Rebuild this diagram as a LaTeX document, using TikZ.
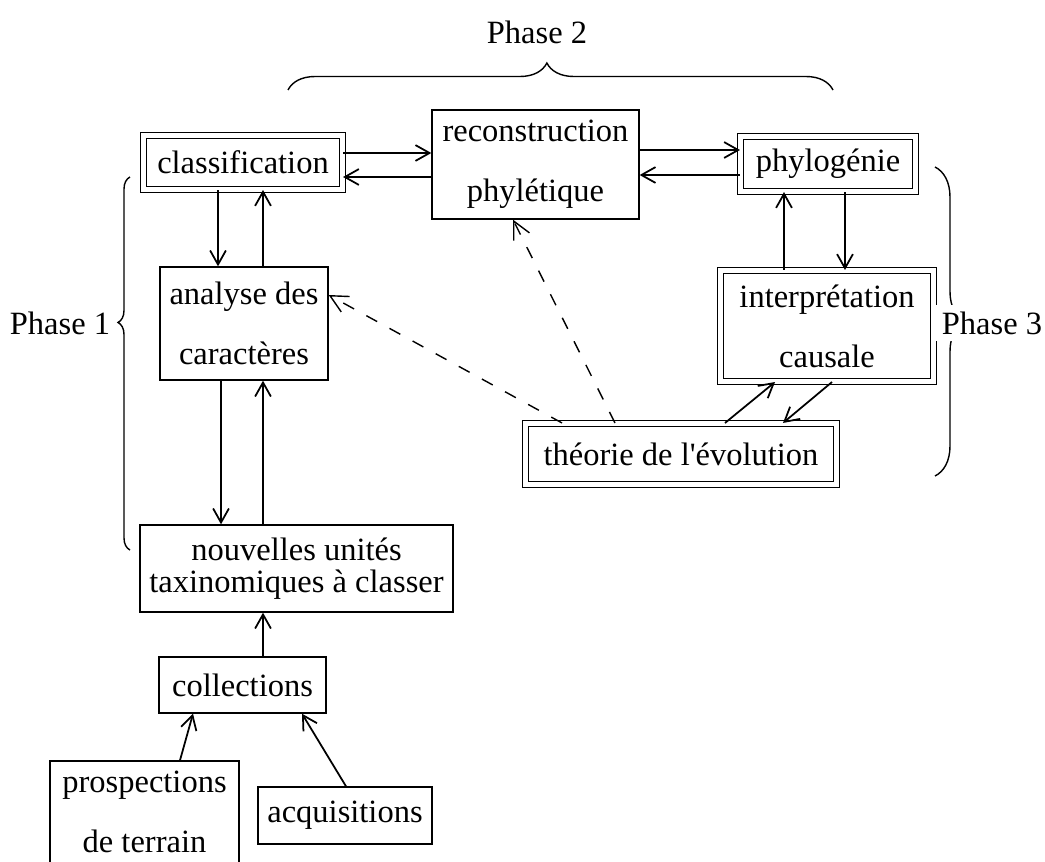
\documentclass[tikz,border=0pt]{standalone}
\usepackage{fontspec}
\setmainfont{Liberation Serif}
\newfontfamily\plainserif{Liberation Serif}
\usetikzlibrary{arrows.meta,decorations.pathreplacing}

\begin{document}
\begin{tikzpicture}[x=0.02cm, y=-0.02cm, >={Straight Barb[length=8pt,width=9pt]},
  main node/.style={draw, line width=0.8pt, inner sep=0pt, align=center},
  double node/.style={main node, double, double distance=3pt, line width=0.6pt},
  brace line/.style={line width=0.8pt, decorate}]
        \tikzstyle{every node}=[font=\fontsize{18.5pt}{18pt}\selectfont]
        \useasboundingbox (0,0) rectangle (1045,862);

          \node[double node, minimum width=3.98cm, minimum height=1.08cm] (1) at (243,162.5) {classification};
          \node[main node, minimum width=4.14cm, minimum height=2.18cm] (2) at (535.5,164.5) {reconstruction\\[16pt]phylétique};
          \node[double node, minimum width=3.5cm, minimum height=1.1cm] (3) at (828,164) {phylogénie};
          \node[double node, minimum width=4.26cm, minimum height=2.22cm] (4) at (827,326) {interprétation\\[16pt]causale};
          \node[double node, minimum width=6.22cm, minimum height=1.22cm] (5) at (681,454) {théorie de l{\plainserif '}évolution};
          \node[main node, minimum width=3.36cm, minimum height=2.26cm] (6) at (244,323.5) {analyse des\\[16pt]caractères};
          \node[main node, minimum width=6.26cm, minimum height=1.74cm] (7) at (296.5,568.5) {nouvelles unités\\taxinomiques à classer};
          \node[main node, minimum width=3.34cm, minimum height=1.12cm] (8) at (242.5,685) {collections};
          \node[main node, minimum width=3.78cm, minimum height=2.04cm] (9) at (144.5,812) {prospections\\[16pt]de terrain};
          \node[main node, minimum width=3.48cm, minimum height=1.14cm] (10) at (345,815.5) {acquisitions};

          % braces
          \draw[brace line, decoration={brace, amplitude=0.54cm, aspect=0.475}] (288,90) -- (833,90);
          \draw[brace line, decoration={brace, amplitude=0.24cm, aspect=0.61}] (130,550) -- (130,177);
          \draw[brace line, decoration={brace, amplitude=0.6cm, aspect=0.5}] (935,167) -- (935,476);

          \node (p2) at (537,32) {Phase 2};
          \node (p1) at (60,323) {Phase 1};
          \node[fill=white, inner sep=4pt] (p3) at (992,323) {Phase 3};

          \path[->, line width=1pt]
            ([yshift=0.19cm]1.east) edge ([yshift=0.23cm]2.west)
            ([yshift=-0.25cm]2.west) edge ([yshift=-0.29cm]1.east)
            ([yshift=0.29cm]2.east) edge ([yshift=0.28cm]3.west)
            ([yshift=-0.22cm]3.west) edge ([yshift=-0.21cm]2.east)
            ([xshift=-0.5cm]1.south) edge ([xshift=-0.52cm]6.north)
            ([xshift=0.38cm]6.north) edge ([xshift=0.4cm]1.south)
            ([xshift=-0.46cm]6.south) edge ([xshift=-1.51cm]7.north)
            ([xshift=-0.67cm]7.north) edge ([xshift=0.38cm]6.south)
            ([xshift=-0.86cm]4.north) edge ([xshift=-0.88cm]3.south)
            ([xshift=0.34cm]3.south) edge ([xshift=0.36cm]4.north)
            ([xshift=0.88cm]5.north) edge ([xshift=-1.04cm]4.south)
            ([xshift=0.1cm]4.south) edge ([xshift=2.04cm]5.north)
            ([xshift=0.41cm]8.north) edge ([xshift=-0.67cm]7.south)
            ([xshift=0.71cm]9.north) edge ([xshift=-0.99cm]8.south)
            ([xshift=0.02cm]10.north) edge ([xshift=1.19cm]8.south);

          \path[-{Straight Barb[length=10pt,width=10pt]}, line width=0.8pt, dash pattern=on 7pt off 8pt]
            ([xshift=-2.38cm]5.north) edge ([yshift=0.57cm]6.east)
            ([xshift=-1.32cm]5.north) edge ([xshift=-0.45cm]2.south);

        \end{tikzpicture}
\end{document}
